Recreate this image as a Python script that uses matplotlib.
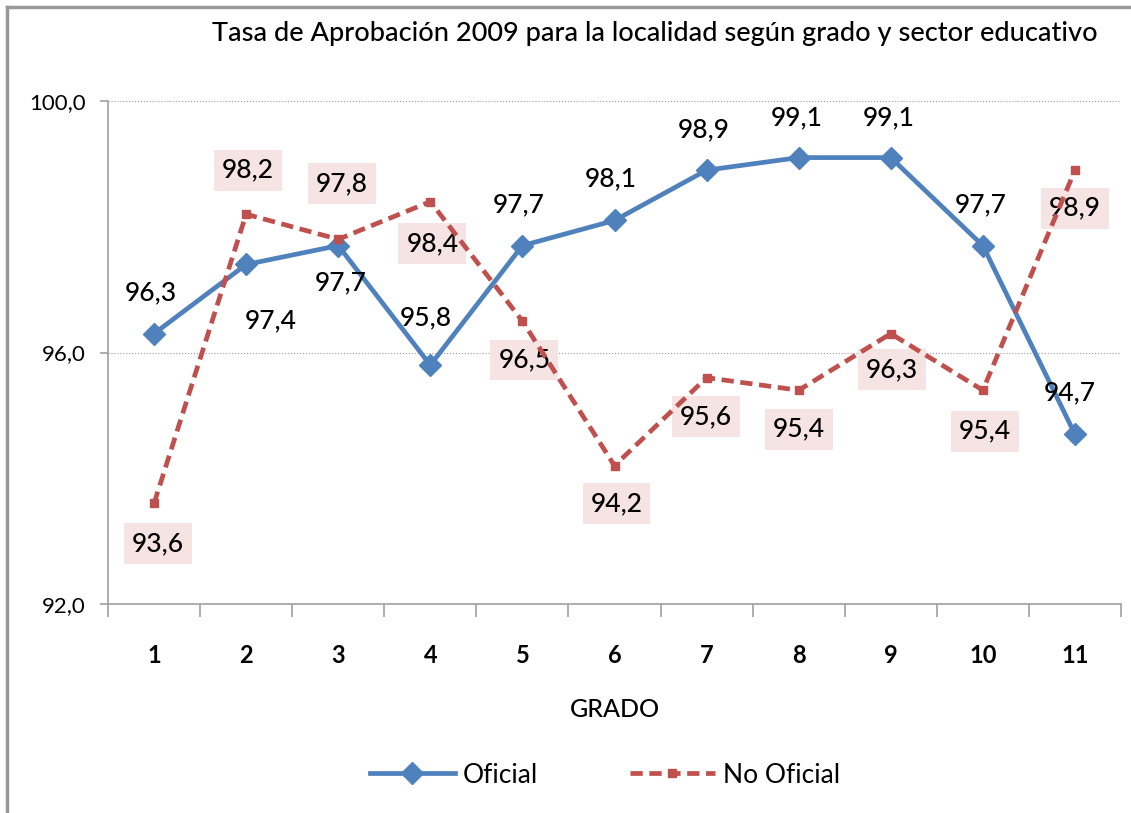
import numpy as np
import matplotlib.pyplot as plt
from matplotlib.lines import Line2D

# datos
grados = [1, 2, 3, 4, 5, 6, 7, 8, 9, 10, 11]
oficial = [96.3, 97.4, 97.7, 95.8, 97.7, 98.1, 98.9, 99.1, 99.1, 97.7, 94.7]
no_oficial = [93.6, 98.2, 97.8, 98.4, 96.5, 94.2, 95.6, 95.4, 96.3, 95.4, 98.9]
y_ticks = [92.0, 96.0, 100.0]

# posición de las etiquetas respecto al punto (en píxeles)
off_oficial = [(-3, 41), (25, -56), (2, -37), (-5, 47), (-4, 41), (-4, 42),
               (-3, 40), (-2, 40), (-2, 40), (-2, 41), (-5, 41)]
off_no_oficial = [(4, -40), (2, 44), (4, 56), (2, -42), (2, -39), (2, -38),
                  (-1, -39), (0, -39), (1, -36), (2, -41), (0, -38)]

azul = '#4f81bd'
rojo = '#c0504d'
rosa = '#f6e3e3'
gris = '#a0a0a0'

plt.rcParams['font.family'] = ['Lato', 'DejaVu Sans']

fig = plt.figure(figsize=(11.31, 8.13), dpi=100)
ax = fig.add_axes([108/1131, 1-604/813, (1121-108)/1131, (604-101)/813])

ax.plot(grados, oficial, color=azul, lw=3.4, marker='D', ms=11, zorder=3, label='Oficial')
ax.plot(grados, no_oficial, color=rojo, lw=3.4, ls=(0, (2.6, 1.4)), marker='s', ms=6,
        zorder=3, label='No Oficial')

px = 0.72
for x, v, (dx, dy) in zip(grados, oficial, off_oficial):
    ax.annotate(f'{v:.1f}'.replace('.', ','), (x, v), xytext=(dx*px, dy*px),
                textcoords='offset points', ha='center', va='center', fontsize=19,
                fontweight='medium', zorder=4)
for x, v, (dx, dy) in zip(grados, no_oficial, off_no_oficial):
    ax.annotate(f'{v:.1f}'.replace('.', ','), (x, v), xytext=(dx*px, dy*px),
                textcoords='offset points', ha='center', va='center', fontsize=19,
                fontweight='medium', zorder=2,
                bbox=dict(boxstyle='square,pad=0.3', fc=rosa, ec='none'))

ax.set_xlim(0.5, 11.5)
ax.set_ylim(92, 100)
ax.set_yticks(y_ticks)
ax.set_yticklabels([f'{t:.1f}'.replace('.', ',') for t in y_ticks], fontsize=16)
ax.set_xticks(grados)
ax.set_xticklabels([str(g) for g in grados], fontsize=17, fontweight='bold')
ax.set_xticks(np.arange(0.5, 12, 1), minor=True)
ax.tick_params(axis='x', which='major', length=0, pad=29)
ax.tick_params(axis='x', which='minor', length=9, color=gris, width=1.2)
ax.tick_params(axis='y', length=6, color=gris, width=1.2, pad=10)
ax.grid(axis='y', color='#999999', ls=':', lw=0.8)
for s in ['top', 'right']:
    ax.spines[s].set_visible(False)
for s in ['left', 'bottom']:
    ax.spines[s].set_color(gris)
    ax.spines[s].set_linewidth(1.2)

ax.set_xlabel('GRADO', fontsize=18, labelpad=22, fontweight='medium')
fig.text(655/1131, 1-33/813, 'Tasa de Aprobación 2009 para la localidad según grado y sector educativo',
         ha='center', va='center', fontsize=19.5, fontweight='medium')

ax.legend(loc='center', bbox_to_anchor=(605/1131, 1-775/813), bbox_transform=fig.transFigure,
          ncol=2, frameon=False, fontsize=19, handlelength=3.2, columnspacing=3.5,
          handletextpad=0.3)

# marco exterior
fig.add_artist(Line2D([7/1131, 7/1131], [0, 1-7/813], color='#999999', lw=2.5))
fig.add_artist(Line2D([7/1131, 1], [1-7/813, 1-7/813], color='#999999', lw=2.5))

fig.savefig('out.png', dpi=100)
